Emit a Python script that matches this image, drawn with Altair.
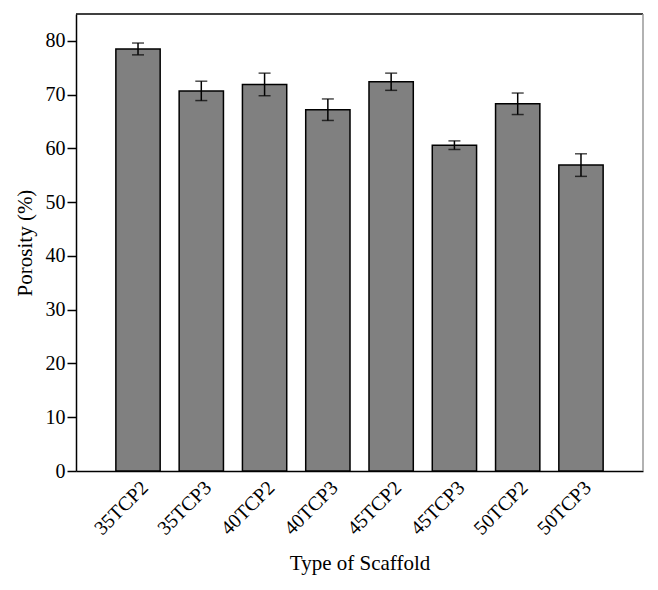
import altair as alt
import pandas as pd

scaffolds = ["35TCP2", "35TCP3", "40TCP2", "40TCP3", "45TCP2", "45TCP3", "50TCP2", "50TCP3"]
porosity = [78.5, 70.7, 71.9, 67.2, 72.4, 60.6, 68.3, 56.9]
errors = [1.1, 1.8, 2.1, 2.0, 1.6, 0.8, 2.0, 2.1]

df = pd.DataFrame({
    "type": scaffolds,
    "porosity": porosity,
    "lo": [p - e for p, e in zip(porosity, errors)],
    "hi": [p + e for p, e in zip(porosity, errors)],
})

FONT = "Liberation Serif"

x_enc = alt.X(
    "type:N",
    sort=scaffolds,
    title="Type of Scaffold",
    scale=alt.Scale(paddingInner=0.3, paddingOuter=0.63),
    axis=alt.Axis(
        labelAngle=-45,
        ticks=False,
        tickSize=0,
        labelPadding=6,
        titlePadding=14,
        domainColor="black",
        domainWidth=1.5,
    ),
)

y_scale = alt.Scale(domain=[0, 85], nice=False)

y_axis = alt.Axis(
    values=list(range(0, 85, 5)),
    labelExpr="datum.value % 10 === 0 ? datum.label : ''",
    tickSize={"condition": {"test": "datum.value % 10 === 0", "value": 9}, "value": 5},
    tickColor="black",
    tickWidth=1.5,
    domainColor="black",
    domainWidth=1.5,
    grid=False,
    labelPadding=2,
    titlePadding=10,
)

base = alt.Chart(df)

bars = base.mark_bar(fill="#808080", stroke="black", strokeWidth=1.5).encode(
    x=x_enc,
    y=alt.Y("porosity:Q", scale=y_scale, axis=y_axis, title="Porosity (%)"),
)

rules = base.mark_rule(color="black", strokeWidth=1.5).encode(
    x=alt.X("type:N", sort=scaffolds),
    y="lo:Q",
    y2="hi:Q",
)

ticks_lo = base.mark_tick(color="black", size=12, thickness=1.5).encode(
    x=alt.X("type:N", sort=scaffolds),
    y="lo:Q",
)
ticks_hi = base.mark_tick(color="black", size=12, thickness=1.5).encode(
    x=alt.X("type:N", sort=scaffolds),
    y="hi:Q",
)

top_rule = alt.Chart(pd.DataFrame({"v": [85]})).mark_rule(color="black", strokeWidth=1.5).encode(
    y=alt.Y("v:Q")
)
right_rule = alt.Chart(pd.DataFrame({"v": [1]})).mark_rule(color="#999999", strokeWidth=1.5).encode(
    x=alt.value(567)
)

chart = alt.layer(bars, rules, ticks_lo, ticks_hi, top_rule, right_rule).properties(
    width=567,
    height=457,
    autosize=alt.AutoSizeParams(type="none"),
    padding={"left": 68, "top": 6, "right": 7, "bottom": 111},
).configure_view(
    stroke=None
).configure_axis(
    labelFont=FONT,
    titleFont=FONT,
    labelFontSize=20,
    titleFontSize=21,
    labelColor="black",
    titleColor="black",
    titleFontWeight="normal",
)

chart.save("out.html", embed_options={"renderer": "svg", "actions": False})
